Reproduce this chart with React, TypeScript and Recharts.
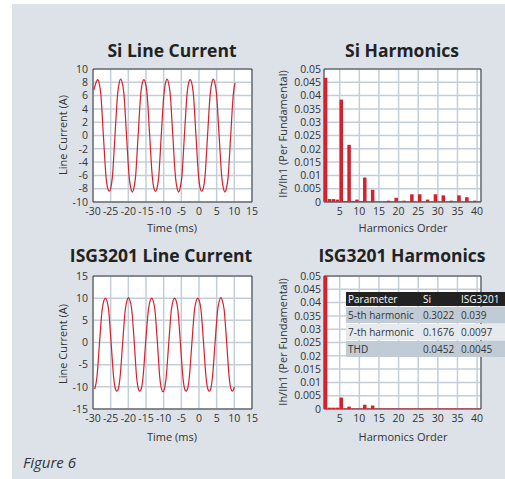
import { LineChart, Line, BarChart, Bar, XAxis, YAxis, CartesianGrid, ReferenceArea } from 'recharts'

const FONT = '"Open Sans", sans-serif'
const RED = '#d4212c'
const GRID = '#c3ced9'
const BORDER = '#3c3c3c'
const TEXT = '#333'

// Si line current trace (ms, A)
const siTime = [
  -29.8, -29.1, -28.7, -28.3, -27.8, -27.06, -26.3, -25.82, -25.42, -25.02, -24.52, -23.78, -23.02,
  -22.55, -22.15, -21.75, -21.25, -20.51, -19.75, -19.27, -18.87, -18.47, -17.97, -17.23, -16.47,
  -16.0, -15.6, -15.2, -14.7, -13.96, -13.2, -12.72, -12.32, -11.92, -11.42, -10.68, -9.92,
  -9.45, -9.05, -8.65, -8.15, -7.41, -6.65, -6.17, -5.77, -5.37, -4.87, -4.13, -3.37,
  -2.9, -2.5, -2.1, -1.6, -0.86, -0.1, 0.38, 0.78, 1.18, 1.68, 2.42, 3.18,
  3.65, 4.05, 4.45, 4.95, 5.69, 6.45, 6.93, 7.33, 7.73, 8.23, 8.97, 9.73, 10.2,
]
const siCurrent = [
  6.8, 8.0, 8.4, 8.0, 6.3, 0, -6.3, -8.0, -8.4, -8.0, -6.3, 0, 6.3,
  8.0, 8.5, 8.0, 6.3, 0, -6.3, -8.0, -8.5, -8.0, -6.3, 0, 6.3,
  8.0, 8.4, 8.0, 6.3, 0, -6.3, -8.0, -8.4, -8.0, -6.3, 0, 6.3,
  8.0, 8.5, 8.0, 6.3, 0, -6.3, -8.0, -8.5, -8.0, -6.3, 0, 6.3,
  8.0, 8.4, 8.0, 6.3, 0, -6.3, -8.0, -8.4, -8.0, -6.3, 0, 6.3,
  8.0, 8.5, 8.0, 6.3, 0, -6.3, -8.0, -8.5, -8.0, -6.3, 0, 6.3, 7.9,
]

// ISG3201 line current trace (ms, A)
const isgTime = [
  -29.5, -28.9, -28.15, -27.4, -26.9, -26.5, -26.1, -25.6, -24.88, -24.15, -23.65, -23.25, -22.85, -22.35,
  -21.6, -20.85, -20.35, -19.95, -19.55, -19.05, -18.32, -17.65, -17.15, -16.75, -16.35, -15.85,
  -15.1, -14.3, -13.8, -13.4, -13.0, -12.5, -11.77, -11.1, -10.6, -10.2, -9.8, -9.3,
  -8.55, -7.8, -7.3, -6.9, -6.5, -6.0, -5.27, -4.55, -4.05, -3.65, -3.25, -2.75,
  -2.0, -1.25, -0.75, -0.35, 0.05, 0.55, 1.28, 2.0, 2.5, 2.9, 3.3, 3.8,
  4.55, 5.3, 5.8, 6.2, 6.6, 7.1, 7.83, 8.55, 9.05, 9.45, 9.85, 10.0,
]
const isgCurrent = [
  -10.5, -7.9, 0, 7.5, 9.5, 10.0, 9.5, 7.5, 0, -7.9, -10.5, -11.0, -10.5, -7.9,
  0, 7.5, 9.5, 10.1, 9.5, 7.5, 0, -7.9, -10.5, -11.0, -10.5, -7.9,
  0, 7.5, 9.5, 10.0, 9.5, 7.5, 0, -7.9, -10.5, -11.1, -10.5, -7.9,
  0, 7.5, 9.5, 10.0, 9.5, 7.5, 0, -7.9, -10.5, -11.0, -10.5, -7.9,
  0, 7.5, 9.5, 10.0, 9.5, 7.5, 0, -7.9, -10.5, -11.0, -10.5, -7.9,
  0, 7.5, 9.5, 10.1, 9.5, 7.5, 0, -7.9, -10.5, -11.0, -10.5, -10.0,
]

const harmonicOrder = [
  1, 2, 3, 4, 5, 6, 7, 8, 9, 10, 11, 12, 13, 14, 15, 16, 17, 18, 19, 20,
  21, 22, 23, 24, 25, 26, 27, 28, 29, 30, 31, 32, 33, 34, 35, 36, 37, 38, 39, 40,
]
const siHarmonics = [
  0.0467, 0.0011, 0.0011, 0.0009, 0.0385, 0.0004, 0.0215, 0.0004, 0.0009, 0.0003,
  0.0092, 0.0002, 0.0046, 0.0002, 0.0002, 0.0002, 0.0005, 0.0002, 0.0016, 0.0002,
  0.0005, 0.0002, 0.0029, 0.0002, 0.0029, 0.0002, 0.0009, 0.0002, 0.0029, 0.0002,
  0.0025, 0.0002, 0.0005, 0.0002, 0.0025, 0.0002, 0.0018, 0.0002, 0.0005, 0.0002,
]
const isgHarmonics = [
  0.05, 0.0005, 0.0005, 0.0005, 0.0043, 0.0002, 0.0009, 0.0002, 0.0002, 0.0002,
  0.0016, 0.0002, 0.0013, 0.0002, 0.0002, 0.0002, 0.0002, 0.0002, 0.0002, 0.0002,
  0.0002, 0.0002, 0.0002, 0.0002, 0.0002, 0.0002, 0.0002, 0.0002, 0.0002, 0.0002,
  0.0002, 0.0002, 0.0002, 0.0002, 0.0002, 0.0002, 0.0002, 0.0002, 0.0002, 0.0002,
]

const timeTicks = [-30, -25, -20, -15, -10, -5, 0, 5, 10, 15]
const siCurrentTicks = [-10, -8, -6, -4, -2, 0, 2, 4, 6, 8, 10]
const isgCurrentTicks = [-15, -10, -5, 0, 5, 10, 15]
const orderTicks = [5, 10, 15, 20, 25, 30, 35, 40]
const ratioTicks = [0, 0.005, 0.01, 0.015, 0.02, 0.025, 0.03, 0.035, 0.04, 0.045, 0.05]

const tableHeader = ['Parameter', 'Si', 'ISG3201']
const tableRows = [
  ['5-th harmonic', '0.3022', '0.039'],
  ['7-th harmonic', '0.1676', '0.0097'],
  ['THD', '0.0452', '0.0045'],
]
const colWidths = [75, 38, 47]

const tick = { fontSize: 10.5, fill: TEXT, fontFamily: FONT }

function ShiftedBar(props: any) {
  const { x, y, width, height, fill } = props
  if (!height || height <= 0) return null
  // bar starts at its harmonic order instead of being centred on it
  return <rect x={x + width / 2} y={y} width={width} height={height} fill={fill} />
}

function CurrentChart({ time, current, ticks, left, top }: any) {
  const data = time.map((t: number, k: number) => ({ t, i: current[k] }))
  const lo = ticks[0]
  const hi = ticks[ticks.length - 1]
  return (
    <div style={{ position: 'absolute', left, top }}>
      <LineChart width={240} height={170} data={data} margin={{ top: 9, right: 18, bottom: 0, left: 0 }}>
        <CartesianGrid stroke={GRID} strokeWidth={1.5} fill="#fff" />
        <XAxis dataKey="t" type="number" domain={[-30, 15]} ticks={timeTicks} interval={0}
          height={28} tickLine={false} tickSize={0} tickMargin={6} axisLine={false} tick={tick} />
        <YAxis type="number" domain={[lo, hi]} ticks={ticks} interval={0} width={63}
          tickLine={false} tickSize={0} tickMargin={5} axisLine={false} tick={tick} />
        <ReferenceArea x1={-30} x2={15} y1={lo} y2={hi} fill="none" stroke={BORDER} strokeWidth={1} />
        <Line type="monotone" dataKey="i" stroke={RED} strokeWidth={1.2} dot={false} isAnimationActive={false} />
      </LineChart>
    </div>
  )
}

function HarmonicChart({ values, left, top }: any) {
  const data = harmonicOrder.map((h, k) => ({ h, v: values[k] }))
  return (
    <div style={{ position: 'absolute', left, top }}>
      <BarChart width={228} height={170} data={data} margin={{ top: 9, right: 9, bottom: 0, left: 0 }}>
        <CartesianGrid stroke={GRID} strokeWidth={1.5} fill="#fff" />
        <XAxis dataKey="h" type="number" domain={[1, 41]} ticks={orderTicks} interval={0}
          height={28} tickLine={false} tickSize={0} tickMargin={6} axisLine={false} tick={tick} />
        <YAxis type="number" domain={[0, 0.05]} ticks={ratioTicks} interval={0} width={62}
          allowDataOverflow tickLine={false} tickSize={0} tickMargin={3} axisLine={false} tick={tick} />
        <ReferenceArea x1={1} x2={41} y1={0} y2={0.05} fill="none" stroke={BORDER} strokeWidth={1} />
        <Bar dataKey="v" fill={RED} barSize={3.5} shape={ShiftedBar} isAnimationActive={false} />
      </BarChart>
    </div>
  )
}

function Label({ text, x, y, size = 11, bold = false, rotate = false }: any) {
  return (
    <div style={{
      position: 'absolute', left: x, top: y, whiteSpace: 'nowrap', fontFamily: FONT,
      fontSize: size, fontWeight: bold ? 700 : 400, color: bold ? '#222' : TEXT, lineHeight: 1,
      transform: `translate(-50%, -50%)${rotate ? ' rotate(-90deg)' : ''}`,
    }}>
      {text}
    </div>
  )
}

function Cell({ text, k }: any) {
  return (
    <span style={{ width: colWidths[k], flexShrink: 0, boxSizing: 'border-box', paddingLeft: 2, whiteSpace: 'nowrap', overflow: 'hidden' }}>
      {text}
    </span>
  )
}

export default function App() {
  return (
    <div style={{ position: 'absolute', left: 0, top: 0, width: 505, height: 479, background: '#fff', overflow: 'hidden' }}>
      <div style={{ position: 'absolute', left: 12, top: 4, width: 493, height: 475, background: '#dce2e8' }} />

      <Label text="Si Line Current" x={172} y={51} size={17.5} bold />
      <Label text="Si Harmonics" x={402} y={51} size={17.5} bold />
      <Label text="ISG3201 Line Current" x={161} y={256} size={17.5} bold />
      <Label text="ISG3201 Harmonics" x={402} y={256} size={17.5} bold />

      <CurrentChart time={siTime} current={siCurrent} ticks={siCurrentTicks} left={30} top={60} />
      <HarmonicChart values={siHarmonics} left={262} top={60} />
      <CurrentChart time={isgTime} current={isgCurrent} ticks={isgCurrentTicks} left={30} top={266.7} />
      <HarmonicChart values={isgHarmonics} left={262} top={266.7} />

      <Label text="Line Current (A)" x={62} y={135} rotate />
      <Label text="Ih/Ih1 (Per Fundamental)" x={282} y={134} rotate />
      <Label text="Line Current (A)" x={62} y={344} rotate />
      <Label text="Ih/Ih1 (Per Fundamental)" x={282} y={342} rotate />
      <Label text="Time (ms)" x={172} y={227} />
      <Label text="Harmonics Order" x={403} y={227} />
      <Label text="Time (ms)" x={172} y={436} />
      <Label text="Harmonics Order" x={403} y={436} />

      <div style={{ position: 'absolute', left: 346, top: 292, width: 159, fontFamily: FONT, fontSize: 10 }}>
        <div style={{ display: 'flex', background: '#222', color: '#fff', height: 14, lineHeight: '14px' }}>
          {tableHeader.map((c, k) => <Cell key={k} text={c} k={k} />)}
        </div>
        {tableRows.map((row, r) => (
          <div key={r} style={{
            display: 'flex', marginTop: 1, height: 16, lineHeight: '16px', color: '#333',
            background: r === 1 ? '#e6eaee' : '#c1cbd5',
          }}>
            {row.map((c, k) => <Cell key={k} text={c} k={k} />)}
          </div>
        ))}
      </div>

      <div style={{ position: 'absolute', left: 23, top: 452, fontFamily: FONT, fontStyle: 'italic', fontSize: 15, color: '#333' }}>
        Figure 6
      </div>
    </div>
  )
}
